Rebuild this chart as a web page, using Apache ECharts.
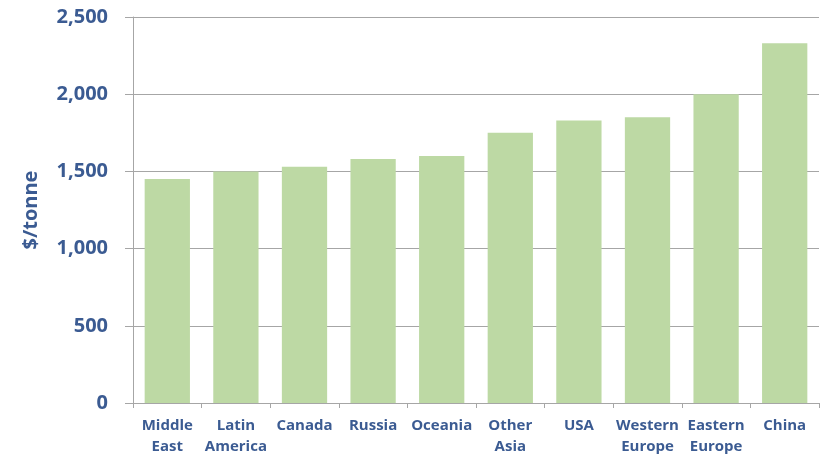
<!DOCTYPE html>
<html>
<head>
<meta charset="utf-8">
<script src="https://cdn.jsdelivr.net/npm/echarts@6/dist/echarts.min.js"></script>
<style>
  html, body { margin: 0; padding: 0; background: #fff; }
  #chart { width: 827px; height: 459px; }
</style>
</head>
<body>
<div id="chart"></div>
<script>
const categories = ['Middle\nEast', 'Latin\nAmerica', 'Canada', 'Russia', 'Oceania', 'Other\nAsia', 'USA', 'Western\nEurope', 'Eastern\nEurope', 'China']
const values = [1450, 1500, 1530, 1580, 1600, 1750, 1830, 1850, 2000, 2330]
const yTicks = { min: 0, max: 2500, interval: 500 }

const textColor = '#3b5b92'
const fontFamily = '"Open Sans", "DejaVu Sans", sans-serif'

const chart = echarts.init(document.getElementById('chart'))

chart.setOption({
  animation: false,
  grid: {
    left: 133,
    right: 8,
    top: 17,
    bottom: 56
  },
  xAxis: {
    type: 'category',
    data: categories,
    axisLine: {
      lineStyle: { color: '#a6a6a6', width: 1 }
    },
    axisTick: {
      show: true,
      length: 5,
      alignWithLabel: false,
      lineStyle: { color: '#a6a6a6' }
    },
    axisLabel: {
      color: textColor,
      fontFamily: fontFamily,
      fontWeight: 'bold',
      fontSize: 15,
      lineHeight: 21,
      margin: 12,
      interval: 0
    }
  },
  yAxis: {
    type: 'value',
    min: yTicks.min,
    max: yTicks.max,
    interval: yTicks.interval,
    name: '$/tonne',
    nameLocation: 'middle',
    nameGap: 92,
    nameRotate: 90,
    nameTextStyle: {
      color: textColor,
      fontFamily: fontFamily,
      fontWeight: 'bold',
      fontSize: 20
    },
    axisLine: {
      show: true,
      lineStyle: { color: '#a6a6a6', width: 1 }
    },
    axisTick: {
      show: true,
      length: 8,
      lineStyle: { color: '#a6a6a6' }
    },
    axisLabel: {
      color: textColor,
      fontFamily: fontFamily,
      fontWeight: 'bold',
      fontSize: 20,
      margin: 25,
      formatter: v => v.toLocaleString('en-US')
    },
    splitLine: {
      lineStyle: { color: '#a6a6a6', width: 1 }
    }
  },
  series: [
    {
      type: 'bar',
      data: values,
      barCategoryGap: '34%',
      itemStyle: { color: '#bdd9a4' }
    }
  ]
})
</script>
</body>
</html>
